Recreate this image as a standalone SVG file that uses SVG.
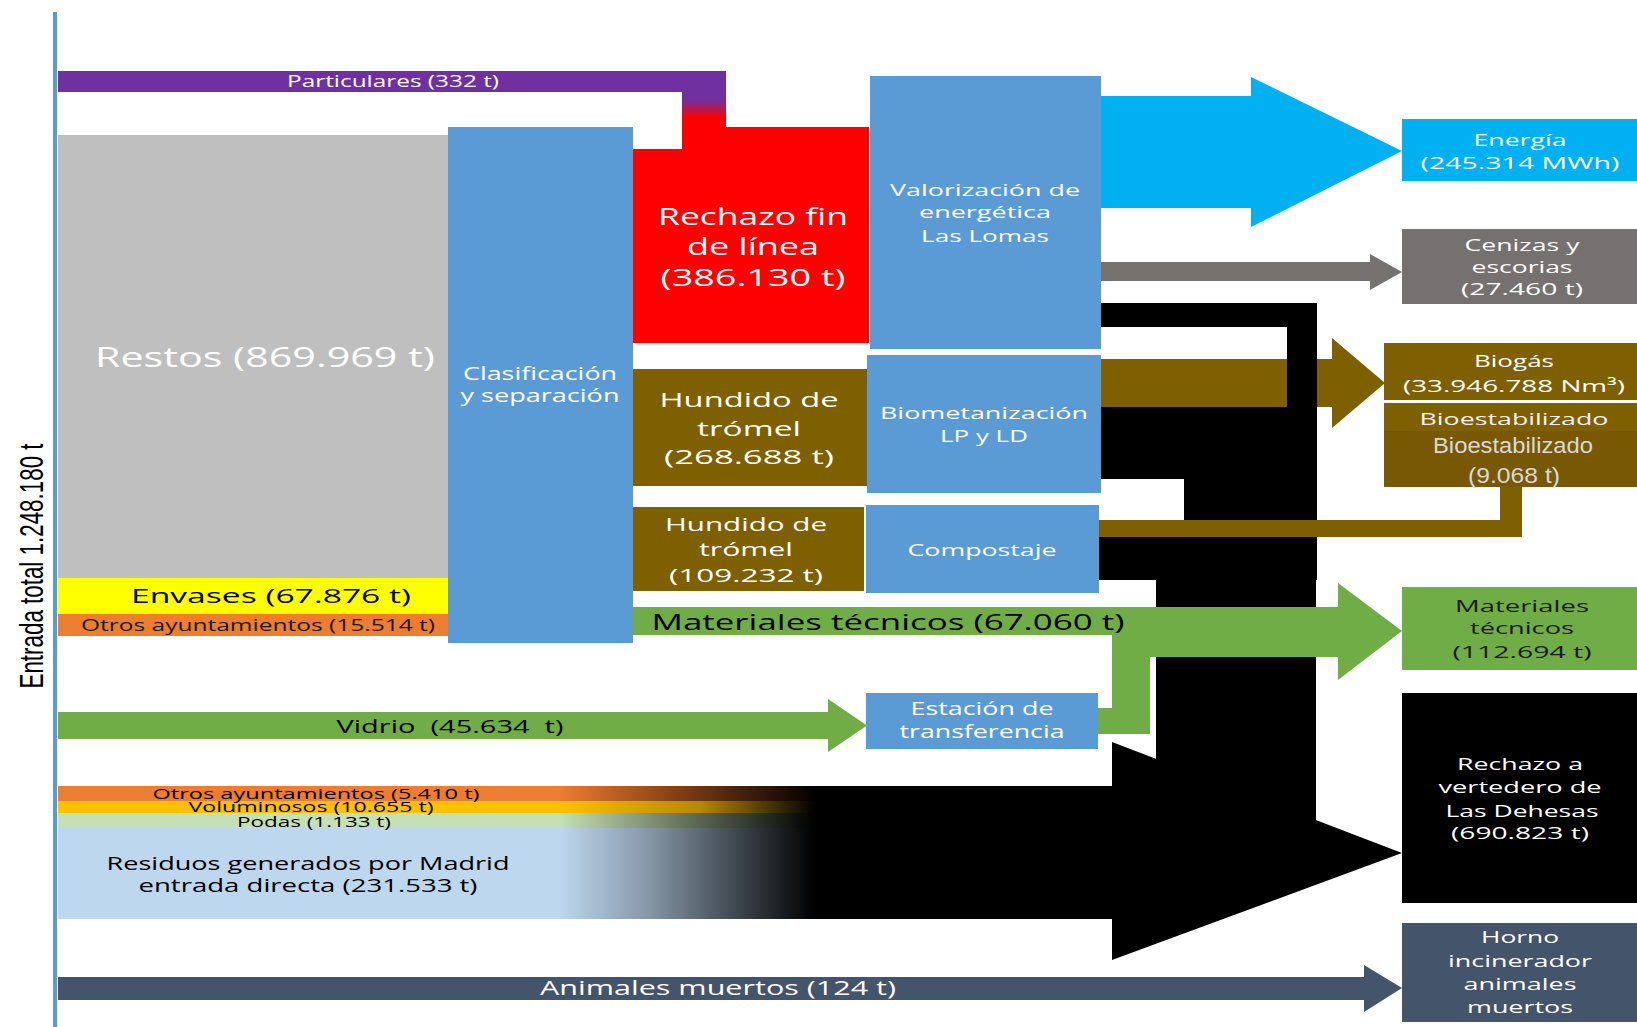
<svg xmlns="http://www.w3.org/2000/svg" width="1637" height="1027" viewBox="0 0 1637 1027">
<defs>
<style>
text{font-family:"Open Sans","Noto Sans","Liberation Sans",sans-serif;text-anchor:middle}
.w{fill:#ffffff}
.k{fill:#000000}
.blue{fill:#5b9bd5}
.brown{fill:#7f6000}
.green{fill:#70ad47}
.blk{fill:#000000}
</style>
<linearGradient id="gPart" gradientUnits="userSpaceOnUse" x1="0" y1="100" x2="0" y2="118">
<stop offset="0" stop-color="#7030a0"/><stop offset="1" stop-color="#ff0000"/>
</linearGradient>
<linearGradient id="gOtros" gradientUnits="userSpaceOnUse" x1="560" y1="0" x2="815" y2="0">
<stop offset="0" stop-color="#ed7d31"/><stop offset="0.5" stop-color="#7a3a12"/><stop offset="1" stop-color="#000"/>
</linearGradient>
<linearGradient id="gVol" gradientUnits="userSpaceOnUse" x1="560" y1="0" x2="815" y2="0">
<stop offset="0" stop-color="#ffc000"/><stop offset="0.55" stop-color="#b58800"/><stop offset="1" stop-color="#000"/>
</linearGradient>
<linearGradient id="gPodas" gradientUnits="userSpaceOnUse" x1="560" y1="0" x2="815" y2="0">
<stop offset="0" stop-color="#c5e0b4"/><stop offset="1" stop-color="#000"/>
</linearGradient>
<linearGradient id="gRes" gradientUnits="userSpaceOnUse" x1="560" y1="0" x2="815" y2="0">
<stop offset="0" stop-color="#bdd7ee"/><stop offset="0.35" stop-color="#8596a6"/><stop offset="1" stop-color="#000"/>
</linearGradient>
</defs>
<rect width="1637" height="1027" fill="#ffffff"/>

<g id="axis">
<rect x="53" y="12" width="4" height="1015" fill="#5b9bd5"/>
<text transform="translate(43,566) rotate(-90)" style="font-family:'Liberation Sans Narrow','Liberation Sans',sans-serif" font-size="34" textLength="245" lengthAdjust="spacingAndGlyphs" class="k">Entrada total 1.248.180 t</text>
</g>

<g id="connectors">
<!-- inputs -->
<rect x="58" y="71" width="668" height="21" fill="#7030a0"/>
<rect x="682" y="91" width="44" height="38" fill="url(#gPart)"/>
<rect x="58" y="712" width="770" height="27" class="green"/>
<polygon points="828,699 867,725.5 828,752" class="green"/>
<rect x="58" y="786" width="1054" height="15" fill="url(#gOtros)"/>
<rect x="58" y="801" width="1054" height="12" fill="url(#gVol)"/>
<rect x="58" y="813" width="1054" height="15" fill="url(#gPodas)"/>
<rect x="58" y="828" width="1054" height="91" fill="url(#gRes)"/>
<rect x="58" y="977" width="1307" height="23" fill="#44546a"/>
<polygon points="1364,965 1402,988 1364,1012" fill="#44546a"/>
<!-- outputs -->
<rect x="1101" y="96" width="150" height="112" fill="#00b0f0"/>
<polygon points="1251,77 1402,151 1251,227" fill="#00b0f0"/>
<rect x="1101" y="262" width="269" height="19" fill="#767171"/>
<polygon points="1370,254 1402,272 1370,290" fill="#767171"/>
<rect x="1101" y="359" width="231" height="48" class="brown"/>
<polygon points="1332,338 1385,383 1332,428" class="brown"/>
<!-- rejects to landfill -->
<rect x="1101" y="303" width="216" height="24" class="blk"/>
<rect x="1287" y="303" width="30" height="110" class="blk"/>
<rect x="1101" y="407" width="216" height="72" class="blk"/>
<rect x="1184" y="478" width="133" height="43" class="blk"/>
<rect x="1099" y="520" width="218" height="60" class="blk"/>
<rect x="1156" y="579" width="160" height="250" class="blk"/>
<polygon points="1112,742 1402,853 1112,960" class="blk"/>
<!-- compost to bioestabilizado -->
<rect x="1099" y="520" width="423" height="17" class="brown"/>
<rect x="1500" y="486" width="22" height="51" class="brown"/>
<!-- materiales técnicos -->
<rect x="633" y="607" width="520" height="28" class="green"/>
<rect x="1112" y="607" width="38" height="127" class="green"/>
<rect x="1098" y="708" width="52" height="26" class="green"/>
<rect x="1112" y="607" width="227" height="50" class="green"/>
<polygon points="1338,583 1402,631 1338,680" class="green"/>
<!-- labels on flows -->
<text x="393" y="87" font-size="16" textLength="212" lengthAdjust="spacingAndGlyphs" class="w">Particulares (332 t)</text>
<text x="888" y="630" font-size="21" textLength="473" lengthAdjust="spacingAndGlyphs" class="k">Materiales técnicos (67.060 t)</text>
<text x="450" y="733" font-size="19" textLength="227" lengthAdjust="spacingAndGlyphs" class="k" xml:space="preserve">Vidrio  (45.634  t)</text>
<text x="316" y="799" font-size="14" textLength="327" lengthAdjust="spacingAndGlyphs" class="k">Otros ayuntamientos (5.410 t)</text>
<text x="311" y="812" font-size="14" textLength="245" lengthAdjust="spacingAndGlyphs" class="k">Voluminosos (10.655 t)</text>
<text x="314" y="827" font-size="14" textLength="154" lengthAdjust="spacingAndGlyphs" class="k">Podas (1.133 t)</text>
<text x="308" y="870" font-size="18" textLength="403" lengthAdjust="spacingAndGlyphs" class="k">Residuos generados por Madrid</text>
<text x="308" y="892" font-size="18" textLength="339" lengthAdjust="spacingAndGlyphs" class="k">entrada directa (231.533 t)</text>
<text x="718" y="995" font-size="19.5" textLength="356" lengthAdjust="spacingAndGlyphs" class="w">Animales muertos (124 t)</text>
</g>

<g id="restos">
<rect x="58" y="135" width="390" height="443" fill="#bfbfbf"/>
<text x="265" y="367" font-size="27" textLength="340" lengthAdjust="spacingAndGlyphs" class="w">Restos (869.969 t)</text>
</g>
<g id="envases">
<rect x="58" y="578" width="390" height="36" fill="#ffff00"/>
<text x="271" y="603" font-size="20" textLength="280" lengthAdjust="spacingAndGlyphs" class="k">Envases (67.876 t)</text>
</g>
<g id="otros-ayuntamientos">
<rect x="58" y="614" width="390" height="22" fill="#ed7d31"/>
<text x="258" y="631" font-size="16" textLength="354" lengthAdjust="spacingAndGlyphs" fill="#1a1a1a">Otros ayuntamientos (15.514 t)</text>
</g>

<g id="clasificacion">
<rect x="448" y="127" width="185" height="516" class="blue"/>
<text x="540" y="380" font-size="19" textLength="154" lengthAdjust="spacingAndGlyphs" class="w">Clasificación</text>
<text x="540" y="402" font-size="19" textLength="159" lengthAdjust="spacingAndGlyphs" class="w">y separación</text>
</g>

<g id="rechazo-fin-linea">
<path d="M633,149 H682 V127 H869 V343 H633 Z" fill="#ff0000"/>
<text x="753" y="225" font-size="23" textLength="190" lengthAdjust="spacingAndGlyphs" class="w">Rechazo fin</text>
<text x="753" y="255" font-size="23" textLength="132" lengthAdjust="spacingAndGlyphs" class="w">de línea</text>
<text x="753" y="286" font-size="23" textLength="185" lengthAdjust="spacingAndGlyphs" class="w">(386.130 t)</text>
</g>

<g id="hundido-1">
<rect x="633" y="369" width="234" height="117" class="brown"/>
<text x="749" y="407" font-size="20" textLength="179" lengthAdjust="spacingAndGlyphs" class="w">Hundido de</text>
<text x="749" y="436" font-size="20" textLength="104" lengthAdjust="spacingAndGlyphs" class="w">trómel</text>
<text x="749" y="464" font-size="20" textLength="170" lengthAdjust="spacingAndGlyphs" class="w">(268.688 t)</text>
</g>

<g id="hundido-2">
<rect x="633" y="507" width="231" height="84" class="brown"/>
<text x="746" y="531" font-size="18.5" textLength="162" lengthAdjust="spacingAndGlyphs" class="w">Hundido de</text>
<text x="746" y="556" font-size="18.5" textLength="94" lengthAdjust="spacingAndGlyphs" class="w">trómel</text>
<text x="746" y="582" font-size="18.5" textLength="154" lengthAdjust="spacingAndGlyphs" class="w">(109.232 t)</text>
</g>

<g id="valorizacion">
<rect x="870" y="76" width="231" height="273" class="blue"/>
<text x="985" y="196" font-size="17" textLength="190" lengthAdjust="spacingAndGlyphs" class="w">Valorización de</text>
<text x="985" y="218" font-size="17" textLength="132" lengthAdjust="spacingAndGlyphs" class="w">energética</text>
<text x="985" y="242" font-size="17" textLength="128" lengthAdjust="spacingAndGlyphs" class="w">Las Lomas</text>
</g>

<g id="biometanizacion">
<rect x="867" y="355" width="234" height="138" class="blue"/>
<text x="984" y="419" font-size="17" textLength="208" lengthAdjust="spacingAndGlyphs" class="w">Biometanización</text>
<text x="984" y="442" font-size="17" textLength="88" lengthAdjust="spacingAndGlyphs" class="w">LP y LD</text>
</g>

<g id="compostaje">
<rect x="866" y="505" width="233" height="88" class="blue"/>
<text x="982" y="556" font-size="16.5" textLength="149" lengthAdjust="spacingAndGlyphs" class="w">Compostaje</text>
</g>

<g id="estacion">
<rect x="866" y="693" width="232" height="56" class="blue"/>
<text x="982" y="715" font-size="18" textLength="143" lengthAdjust="spacingAndGlyphs" class="w">Estación de</text>
<text x="982" y="738" font-size="18" textLength="165" lengthAdjust="spacingAndGlyphs" class="w">transferencia</text>
</g>

<g id="energia">
<rect x="1402" y="119" width="235" height="62" fill="#00b0f0"/>
<text x="1520" y="146" font-size="17" textLength="93" lengthAdjust="spacingAndGlyphs" class="w">Energía</text>
<text x="1520" y="169" font-size="17" textLength="199" lengthAdjust="spacingAndGlyphs" class="w">(245.314 MWh)</text>
</g>

<g id="cenizas">
<rect x="1402" y="229" width="235" height="75" fill="#767171"/>
<text x="1522" y="251" font-size="17" textLength="115" lengthAdjust="spacingAndGlyphs" class="w">Cenizas y</text>
<text x="1522" y="273" font-size="17" textLength="101" lengthAdjust="spacingAndGlyphs" class="w">escorias</text>
<text x="1522" y="295" font-size="17" textLength="122" lengthAdjust="spacingAndGlyphs" class="w">(27.460 t)</text>
</g>

<g id="biogas">
<rect x="1384" y="343" width="253" height="57" class="brown"/>
<text x="1514" y="367" font-size="17" textLength="80" lengthAdjust="spacingAndGlyphs" class="w">Biogás</text>
<text x="1514" y="392" font-size="17" textLength="222" lengthAdjust="spacingAndGlyphs" class="w">(33.946.788 Nm³)</text>
</g>

<g id="bioestabilizado">
<rect x="1384" y="403" width="253" height="84" class="brown"/>
<rect x="1384" y="431" width="253" height="56" fill="#785802"/>
<text x="1514" y="425" font-size="17" textLength="189" lengthAdjust="spacingAndGlyphs" fill="#f2f2f2">Bioestabilizado</text>
<text x="1513" y="453" font-size="22" textLength="160" lengthAdjust="spacingAndGlyphs" fill="#d9d9d9" style="font-family:'Liberation Sans',sans-serif">Bioestabilizado</text>
<text x="1514" y="483" font-size="22" textLength="92" lengthAdjust="spacingAndGlyphs" fill="#d9d9d9" style="font-family:'Liberation Sans',sans-serif">(9.068 t)</text>
</g>

<g id="materiales-tecnicos">
<rect x="1402" y="587" width="235" height="83" class="green"/>
<text x="1522" y="612" font-size="16.5" textLength="134" lengthAdjust="spacingAndGlyphs" fill="#1a1a1a">Materiales</text>
<text x="1522" y="634" font-size="16.5" textLength="104" lengthAdjust="spacingAndGlyphs" fill="#1a1a1a">técnicos</text>
<text x="1522" y="658" font-size="16.5" textLength="139" lengthAdjust="spacingAndGlyphs" fill="#1a1a1a">(112.694 t)</text>
</g>

<g id="vertedero">
<rect x="1402" y="693" width="235" height="210" class="blk"/>
<text x="1520" y="770" font-size="16.5" textLength="126" lengthAdjust="spacingAndGlyphs" class="w">Rechazo a</text>
<text x="1520" y="793" font-size="16.5" textLength="163" lengthAdjust="spacingAndGlyphs" class="w">vertedero de</text>
<text x="1522" y="817" font-size="16.5" textLength="153" lengthAdjust="spacingAndGlyphs" class="w">Las Dehesas</text>
<text x="1520" y="839" font-size="16.5" textLength="138" lengthAdjust="spacingAndGlyphs" class="w">(690.823 t)</text>
</g>

<g id="horno">
<rect x="1402" y="923" width="235" height="99" fill="#44546a"/>
<text x="1520" y="943" font-size="16.5" textLength="78" lengthAdjust="spacingAndGlyphs" class="w">Horno</text>
<text x="1520" y="967" font-size="16.5" textLength="144" lengthAdjust="spacingAndGlyphs" class="w">incinerador</text>
<text x="1520" y="990" font-size="16.5" textLength="113" lengthAdjust="spacingAndGlyphs" class="w">animales</text>
<text x="1520" y="1013" font-size="16.5" textLength="106" lengthAdjust="spacingAndGlyphs" class="w">muertos</text>
</g>
</svg>
